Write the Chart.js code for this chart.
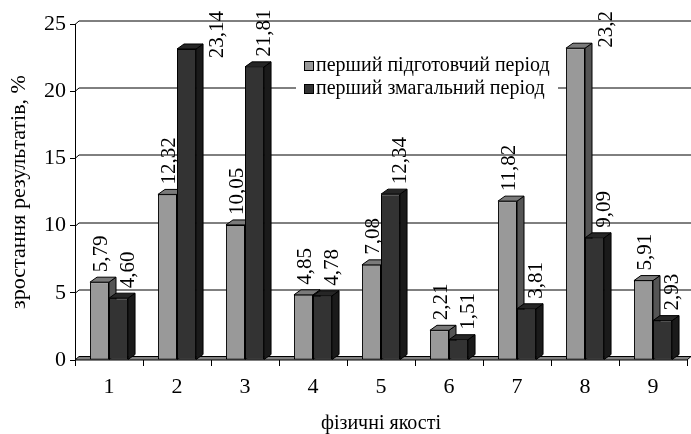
<!DOCTYPE html>
<html>
<head>
<meta charset="utf-8">
<script src="https://cdn.jsdelivr.net/npm/chart.js@4"></script>
<style>
  html, body { margin: 0; padding: 0; background: #fff; }
  canvas { display: block; }
</style>
</head>
<body>
<canvas id="chart" width="691" height="434"></canvas>
<script>
const categories = ["1", "2", "3", "4", "5", "6", "7", "8", "9"];
const prepValues = [5.79, 12.32, 10.05, 4.85, 7.08, 2.21, 11.82, 23.2, 5.91];
const compValues = [4.60, 23.14, 21.81, 4.78, 12.34, 1.51, 3.81, 9.09, 2.93];
const prepLabels = ["5,79", "12,32", "10,05", "4,85", "7,08", "2,21", "11,82", "23,2", "5,91"];
const compLabels = ["4,60", "23,14", "21,81", "4,78", "12,34", "1,51", "3,81", "9,09", "2,93"];
const seriesNames = ["перший підготовчий період", "перший змагальний період"];

const FONT = "'Liberation Serif', 'Times New Roman', serif";
const faces = [
  { front: "#999999", top: "#7a7a7a", side: "#555555" },
  { front: "#333333", top: "#262626", side: "#1a1a1a" }
];
const DX = 7, DY = 5;       // bar depth
const WX = 4, WY = 3.5;     // back wall offset

const threeD = {
  id: "threeD",
  beforeDatasetsDraw(chart) {
    const { ctx, chartArea, scales } = chart;
    const y = scales.y;
    ctx.save();
    ctx.lineWidth = 1;
    ctx.strokeStyle = "#000";
    // back wall gridlines
    y.ticks.forEach(t => {
      if (t.value === 0) return;
      const py = Math.round(y.getPixelForValue(t.value)) + 0.5;
      ctx.beginPath();
      ctx.moveTo(chartArea.left, py);
      ctx.lineTo(chartArea.left + WX, py - WY);
      ctx.lineTo(chart.width, py - WY);
      ctx.stroke();
    });
    // floor
    const fy = y.getPixelForValue(0);
    ctx.fillStyle = "#808080";
    ctx.beginPath();
    ctx.moveTo(chartArea.left, fy);
    ctx.lineTo(chartArea.right, fy);
    ctx.lineTo(chartArea.right + WX, fy - WY);
    ctx.lineTo(chartArea.left + WX, fy - WY);
    ctx.closePath();
    ctx.fill();
    ctx.stroke();
    // bar depth faces
    chart.data.datasets.forEach((ds, i) => {
      chart.getDatasetMeta(i).data.forEach(bar => {
        const l = bar.x - bar.width / 2, r = bar.x + bar.width / 2;
        const top = bar.y, base = bar.base;
        ctx.fillStyle = faces[i].side;
        ctx.beginPath();
        ctx.moveTo(r, top);
        ctx.lineTo(r + DX, top - DY);
        ctx.lineTo(r + DX, base - DY);
        ctx.lineTo(r, base);
        ctx.closePath();
        ctx.fill();
        ctx.stroke();
        ctx.fillStyle = faces[i].top;
        ctx.beginPath();
        ctx.moveTo(l, top);
        ctx.lineTo(l + DX, top - DY);
        ctx.lineTo(r + DX, top - DY);
        ctx.lineTo(r, top);
        ctx.closePath();
        ctx.fill();
        ctx.stroke();
      });
    });
    ctx.restore();
  },
  afterDatasetsDraw(chart) {
    const { ctx } = chart;
    ctx.save();
    // legend box
    const lx = 296, ly = 52;
    ctx.fillStyle = "#fff";
    ctx.fillRect(lx, ly, 262, 48);
    ctx.font = "20px " + FONT;
    ctx.textBaseline = "middle";
    seriesNames.forEach((name, i) => {
      const cy = 66 + i * 23;
      ctx.fillStyle = faces[i].front;
      ctx.fillRect(304.5, cy - 4.5, 9, 9);
      ctx.strokeStyle = "#000";
      ctx.lineWidth = 1;
      ctx.strokeRect(304.5, cy - 4.5, 9, 9);
      ctx.fillStyle = "#000";
      ctx.textAlign = "left";
      ctx.fillText(name, 316, cy);
    });
    // value labels, rotated
    ctx.font = "21px " + FONT;
    const texts = [prepLabels, compLabels];
    const shift = [2, 10];
    chart.data.datasets.forEach((ds, i) => {
      chart.getDatasetMeta(i).data.forEach((bar, j) => {
        const txt = texts[i][j];
        const w = ctx.measureText(txt).width;
        let cx = bar.x + shift[i];
        let bottom = bar.y - 10;
        if (bottom - w < 8) {
          cx = bar.x + bar.width / 2 + DX + 14;
          bottom = 11 + w;
        }
        ctx.save();
        ctx.translate(cx, bottom);
        ctx.rotate(-Math.PI / 2);
        ctx.textAlign = "left";
        ctx.textBaseline = "middle";
        ctx.fillStyle = "#000";
        ctx.fillText(txt, 0, 0);
        ctx.restore();
      });
    });
    ctx.restore();
  }
};

const chart = new Chart(document.getElementById("chart"), {
  type: "bar",
  data: {
    labels: categories,
    datasets: [
      { label: seriesNames[0], data: prepValues, backgroundColor: faces[0].front,
        borderColor: "#000", borderWidth: 1, borderSkipped: false },
      { label: seriesNames[1], data: compValues, backgroundColor: faces[1].front,
        borderColor: "#000", borderWidth: 1, borderSkipped: false }
    ]
  },
  options: {
    responsive: false,
    animation: false,
    devicePixelRatio: 1,
    layout: { padding: { top: 24, right: 4, left: 0, bottom: 0 } },
    datasets: { bar: { categoryPercentage: 0.56, barPercentage: 1 } },
    plugins: { legend: { display: false }, tooltip: { enabled: false } },
    scales: {
      x: {
        offset: true,
        afterFit: s => { s.height = 74; },
        grid: { display: true, drawOnChartArea: false, drawTicks: true, tickLength: 6, color: "#000", offset: true },
        border: { display: false },
        ticks: { color: "#000", font: { family: FONT, size: 22 }, padding: 8 },
        title: { display: true, text: "фізичні якості", color: "#000",
                 font: { family: FONT, size: 20, lineHeight: 1 }, padding: { top: 0, bottom: 0 } }
      },
      y: {
        min: 0, max: 25,
        afterFit: s => { s.width = 75; },
        ticks: { stepSize: 5, color: "#000", font: { family: FONT, size: 22 }, padding: 4 },
        grid: { display: true, drawOnChartArea: false, drawTicks: true, tickLength: 5, color: "#000" },
        border: { display: true, color: "#000" },
        title: { display: true, text: "зростання результатів, %", color: "#000",
                 font: { family: FONT, size: 22 }, padding: { top: 6, bottom: 0 } }
      }
    }
  },
  plugins: [threeD]
});
</script>
</body>
</html>
